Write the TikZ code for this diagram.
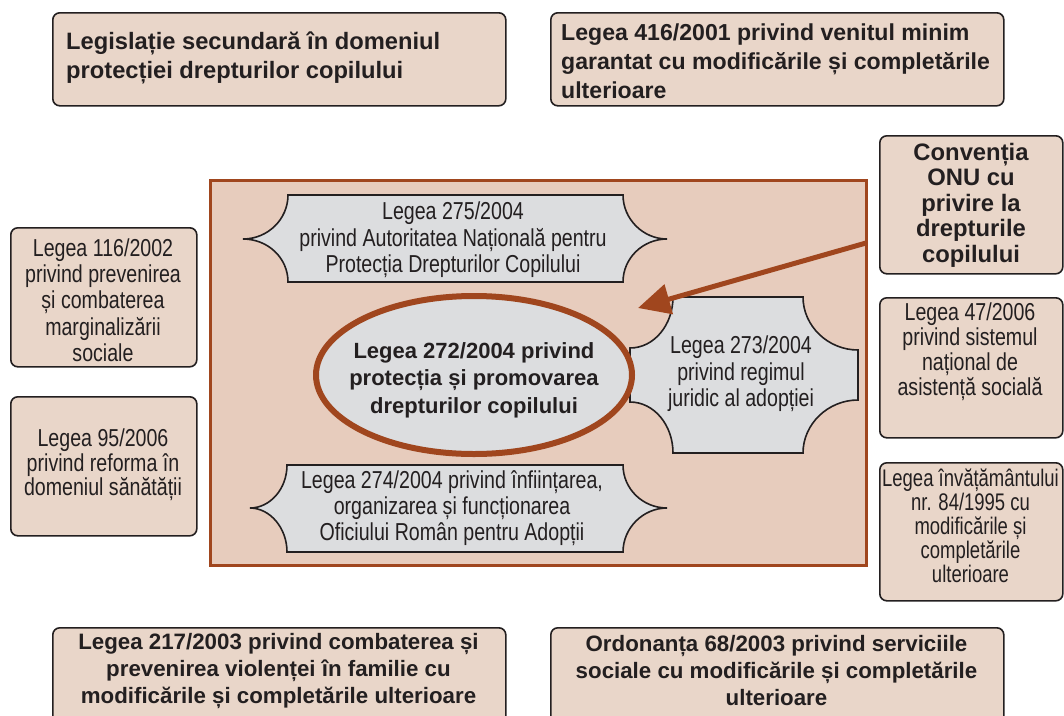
\documentclass[tikz,border=0pt]{standalone}
\usepackage{fontspec}
\setmainfont{Liberation Sans}
\newfontfamily\cond[FakeStretch=0.8]{Liberation Sans}
\newfontfamily\condn[FakeStretch=0.77]{Liberation Sans}
\usetikzlibrary{arrows.meta,shapes.geometric}
\definecolor{boxfill}{HTML}{E9D6C9}
\definecolor{framefill}{HTML}{E7CCBD}
\definecolor{rust}{HTML}{A0461E}
\definecolor{grayfill}{HTML}{DCDDDF}
\definecolor{ink}{HTML}{231F20}
\begin{document}
\begin{tikzpicture}[x=1pt,y=-1pt,
  outbox/.style={draw=ink,line width=1.6pt,fill=boxfill,rounded corners=7pt,inner sep=0pt,anchor=north west},
  boldtxt/.style={text=ink,inner sep=0pt,font=\bfseries\fontsize{23.7}{29}\selectfont},
  botbold/.style={text=ink,inner sep=0pt,align=center,font=\bfseries\fontsize{22.3}{27}\selectfont},
  condtxt/.style={text=ink,inner sep=0pt,align=center,font=\cond\fontsize{24.5}{26.3}\selectfont},
  plaque/.style={draw=ink,line width=1.6pt,fill=grayfill}]
\useasboundingbox[fill=white] (0,0) rectangle (1064,715);

% top boxes
\node[outbox,minimum width=453pt,minimum height=93pt] (secbox) at (52,12) {};
\node[boldtxt,anchor=west,align=left] (sectxt) at (66,58) {Legislație secundară în domeniul\\protecției drepturilor copilului};
\node[outbox,minimum width=453pt,minimum height=93pt] (vmgbox) at (550,12) {};
\node[boldtxt,anchor=west,align=left,font=\bfseries\fontsize{23.1}{29}\selectfont] (vmgtxt) at (561,61) {Legea 416/2001 privind venitul minim\\garantat cu modificările și completările\\ulterioare};

% bottom boxes
\node[outbox,minimum width=453pt,minimum height=100pt] (violbox) at (52,627) {};
\node[botbold] (violtxt) at (278.5,671) {Legea 217/2003 privind combaterea și\\prevenirea violenței în familie cu\\modificările și completările ulterioare};
\node[outbox,minimum width=453pt,minimum height=100pt] (ordbox) at (550,627) {};
\node[botbold] (ordtxt) at (776.5,671) {Ordonanța 68/2003 privind serviciile\\sociale cu modificările și completările\\ulterioare};

% left boxes
\node[outbox,minimum width=186pt,minimum height=139pt] (margbox) at (10,227) {};
\node[condtxt] (margtxt) at (103,300) {Legea 116/2002\\privind prevenirea\\și combaterea\\marginalizării\\sociale};
\node[outbox,minimum width=186pt,minimum height=139pt] (sanbox) at (10,396) {};
\node[condtxt,font=\cond\fontsize{24.5}{24.5}\selectfont] (santxt) at (103,465) {Legea 95/2006\\privind reforma în\\domeniul sănătății};

% right boxes
\node[outbox,minimum width=183pt,minimum height=138pt] (onubox) at (879,135) {};
\node[text=ink,inner sep=0pt,align=center,font=\bfseries\fontsize{23.8}{25.5}\selectfont] (onutxt) at (971,205) {Convenția\\ONU cu\\privire la\\drepturile\\copilului};
\node[outbox,minimum width=183pt,minimum height=140pt] (asbox) at (879,297) {};
\node[condtxt,font=\cond\fontsize{24.5}{25}\selectfont] (astxt) at (970,352) {Legea 47/2006\\privind sistemul\\național de\\asistență socială};
\node[outbox,minimum width=183pt,minimum height=138pt] (invbox) at (879,462) {};
\node[condtxt,font=\condn\fontsize{24}{24}\selectfont] (invtxt) at (970.5,526) {Legea învățământului\\nr. 84/1995 cu\\modificările și\\completările\\ulterioare};

% central frame
\node[draw=rust,line width=2.5pt,fill=framefill,inner sep=0pt,anchor=north west,minimum width=656pt,minimum height=385pt] (frame) at (209,179) {};

% 275 scroll
\draw[plaque] (288,195) -- (623,195)
  .. controls (623,219) and (643,239) .. (667,239)
  .. controls (643,239) and (623,258) .. (623,282)
  -- (288,282)
  .. controls (288,258) and (268,239) .. (243,239)
  .. controls (268,239) and (288,219) .. cycle;
\node[condtxt] (l275) at (453,240) {Legea 275/2004\\privind Autoritatea Națională pentru\\Protecția Drepturilor Copilului};

% 274 scroll
\draw[plaque] (287,465) -- (623,465)
  .. controls (623,489) and (643,508) .. (667,508)
  .. controls (643,508) and (623,528) .. (623,552)
  -- (287,552)
  .. controls (287,528) and (270,508) .. (250,508)
  .. controls (270,508) and (287,489) .. cycle;
\node[condtxt] (l274) at (452,508) {Legea 274/2004 privind înființarea,\\organizarea și funcționarea\\Oficiului Român pentru Adopții};

% 273 plaque
\draw[plaque] (673,297) -- (803,297)
  .. controls (803,326) and (828,350) .. (858,350)
  -- (858,400)
  .. controls (828,400) and (803,424) .. (803,453)
  -- (673,453)
  .. controls (673,425) and (654,402) .. (630,402)
  -- (630,348)
  .. controls (654,348) and (673,325) .. cycle;
\node[condtxt] (l273) at (741,374) {Legea 273/2004\\privind regimul\\juridic al adopției};

% central ellipse
\node[ellipse,draw=rust,line width=6pt,fill=grayfill,minimum width=316pt,minimum height=158pt,inner sep=0pt] (main) at (474,375) {};
\node[text=ink,inner sep=0pt,align=center,font=\bfseries\fontsize{22}{27.5}\selectfont] (maintxt) at (474,380) {Legea 272/2004 privind\\protecția și promovarea\\drepturilor copilului};

% arrow
\coordinate (arrS) at (866,243);
\coordinate (arrE) at (638,308);
\draw[rust,line width=5pt,-{Triangle[length=32pt,width=30pt]}] (arrS) -- (arrE);
\end{tikzpicture}
\end{document}
